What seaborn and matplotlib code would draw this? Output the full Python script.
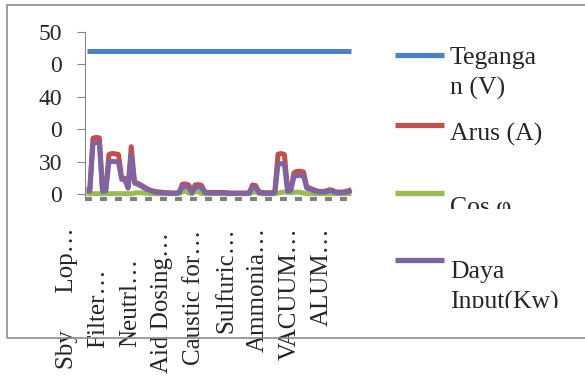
import matplotlib
matplotlib.use('Agg')
import matplotlib.pyplot as plt
import matplotlib.patches as mpatches
from matplotlib.lines import Line2D
import seaborn as sns
import pandas as pd

# series values, one per category (84 categories, only every 10th is labelled)
tegangan = [441, 441, 441, 441, 441, 441, 441, 441, 441, 441, 441, 441,
            441, 441, 441, 441, 441, 441, 441, 441, 441, 441, 441, 441,
            441, 441, 441, 441, 441, 441, 441, 441, 441, 441, 441, 441,
            441, 441, 441, 441, 441, 441, 441, 441, 441, 441, 441, 441,
            441, 441, 441, 441, 441, 441, 441, 441, 441, 441, 441, 441,
            441, 441, 441, 441, 441, 441, 441, 441, 441, 441, 441, 441,
            441, 441, 441, 441, 441, 441, 441, 441, 441, 441, 441, 441]
arus = [14, 14, 172, 175, 173, 12, 13, 122, 125, 124, 122, 50,
        48, 22, 146, 38, 33, 28, 22, 16, 12, 9, 7, 6,
        5, 4, 4, 3, 3, 5, 30, 31, 28, 6, 28, 29,
        27, 7, 5, 5, 5, 5, 5, 5, 4, 3, 3, 3,
        3, 3, 3, 4, 28, 26, 7, 5, 4, 4, 4, 6,
        123, 125, 122, 12, 14, 66, 70, 70, 68, 22, 18, 14,
        10, 8, 8, 9, 13, 12, 7, 6, 6, 7, 10, 14]
cos_phi = [1, 1, 1, 1, 1, 1, 1, 1, 1, 1, 1, 1,
           1, 1, 1, 3, 4, 4, 3, 2, 1, 1, 1, 1,
           1, 1, 1, 1, 1, 1, 7, 8, 3, 1, 8, 7,
           2, 1, 1, 1, 1, 1, 1, 1, 1, 1, 1, 1,
           1, 1, 1, 1, 5, 6, 2, 1, 1, 1, 1, 1,
           3, 5, 6, 5, 4, 5, 6, 5, 3, 1, 1, 1,
           1, 1, 1, 1, 1, 1, 1, 1, 1, 1, 1, 1]
daya = [9, 9, 155, 159, 157, 8, 9, 98, 101, 100, 98, 45,
        44, 18, 120, 34, 30, 25, 19, 14, 10, 7, 5, 4,
        3, 3, 2, 2, 2, 4, 22, 23, 21, 4, 21, 22,
        20, 5, 3, 3, 3, 3, 3, 3, 2, 2, 2, 2,
        2, 2, 2, 3, 21, 19, 5, 3, 2, 2, 2, 4,
        92, 94, 91, 9, 11, 54, 57, 57, 55, 18, 15, 11,
        8, 6, 6, 7, 10, 9, 5, 4, 4, 5, 7, 10]

series_names = ['Teganga\nn (V)', 'Arus (A)', 'Cos φ', 'Daya\nInput(Kw)']
colors = ['#4F81BD', '#C0504D', '#9BBB59', '#8064A2']

cat_labels = ['Sby      Lop…', 'Filter…', 'Neutrl…', 'Aid Dosing…', 'Caustic for…',
              'Sulfuric…', 'Ammonia…', 'VACUUM…', 'ALUM…']
cat_label_idx = [0, 10, 20, 30, 40, 50, 60, 70, 80]
cat_label_drop = [0, 41, 31, 5, 3, 0, 0, 0, 0]  # px, how far each label sits lower

ytick_vals = [0, 100, 200, 300, 400, 500]
ytick_labels = ['0', '30', '0', '40', '0', '50']

W, H = 585, 378

sns.set_style('white')
plt.rcParams['font.family'] = ['Liberation Serif', 'DejaVu Serif']
plt.rcParams['lines.scale_dashes'] = False

df = pd.DataFrame({'idx': range(len(arus)), 'Teganga': tegangan, 'Arus': arus,
                   'Cos': cos_phi, 'Daya': daya})

fig = plt.figure(figsize=(W / 100, H / 100), dpi=100)
ax = fig.add_axes([85 / W, 1 - 199 / H, 268 / W, (199 - 32) / H])

for col, c in zip(['Teganga', 'Arus', 'Cos', 'Daya'], colors):
    sns.lineplot(data=df, x='idx', y=col, color=c, lw=3.6, ax=ax,
                 solid_joinstyle='round', solid_capstyle='butt')

ax.set_xlim(-0.5, len(arus) - 0.5)
ax.set_ylim(-15.4, 500)
ax.set_xlabel('')
ax.set_ylabel('')
ax.set_xticks([])
ax.set_yticks(ytick_vals)
ax.set_yticklabels(ytick_labels)
ax.tick_params(axis='y', length=5.8, width=0.8, color='#868686', pad=10.5,
               labelsize=17, left=True)

for s in ['top', 'right']:
    ax.spines[s].set_visible(False)
ax.spines['left'].set_color('#868686')
ax.spines['left'].set_linewidth(0.8)
ax.spines['bottom'].set_color('#808080')
ax.spines['bottom'].set_linewidth(2.9)
ax.spines['bottom'].set_linestyle((0, (5, 5.8)))
ax.spines['bottom'].set_capstyle('butt')

# category labels, rotated, under the axis
for lab, i, drop in zip(cat_labels, cat_label_idx, cat_label_drop):
    ax.annotate(lab, xy=(i, 0), xycoords=('data', 'axes fraction'),
                xytext=(-14.4, -(28 + drop) * 0.72), textcoords='offset points',
                rotation=90, ha='center', va='top', fontsize=18,
                annotation_clip=False)

# legend, drawn by hand so the texts can be cut like the original
leg_line_y = [55, 125, 193, 260]
leg_text_top = [47, 123, 197, 261]
leg_clip_bottom = [None, None, 209, 308]
for name, c, ly, ty, cb in zip(series_names, colors, leg_line_y, leg_text_top, leg_clip_bottom):
    fig.add_artist(Line2D([395 / W, 444 / W], [1 - ly / H, 1 - ly / H],
                          color=c, lw=3.8, solid_capstyle='butt'))
    t = fig.text(450 / W, 1 - ty / H, name, ha='left', va='top',
                 fontsize=18.5, linespacing=1.45)
    if cb is not None:
        clip = mpatches.Rectangle((440, H - cb), 140, cb - ty + 10,
                                  transform=None)
        t.set_clip_path(clip)

# outer chart frame
fig.add_artist(mpatches.Rectangle((7 / W, 1 - 338 / H), 600 / W, 333 / H,
                                  transform=fig.transFigure, fill=False,
                                  edgecolor='#8c8c8c', lw=1.2))

fig.savefig('out.png', dpi=100)
